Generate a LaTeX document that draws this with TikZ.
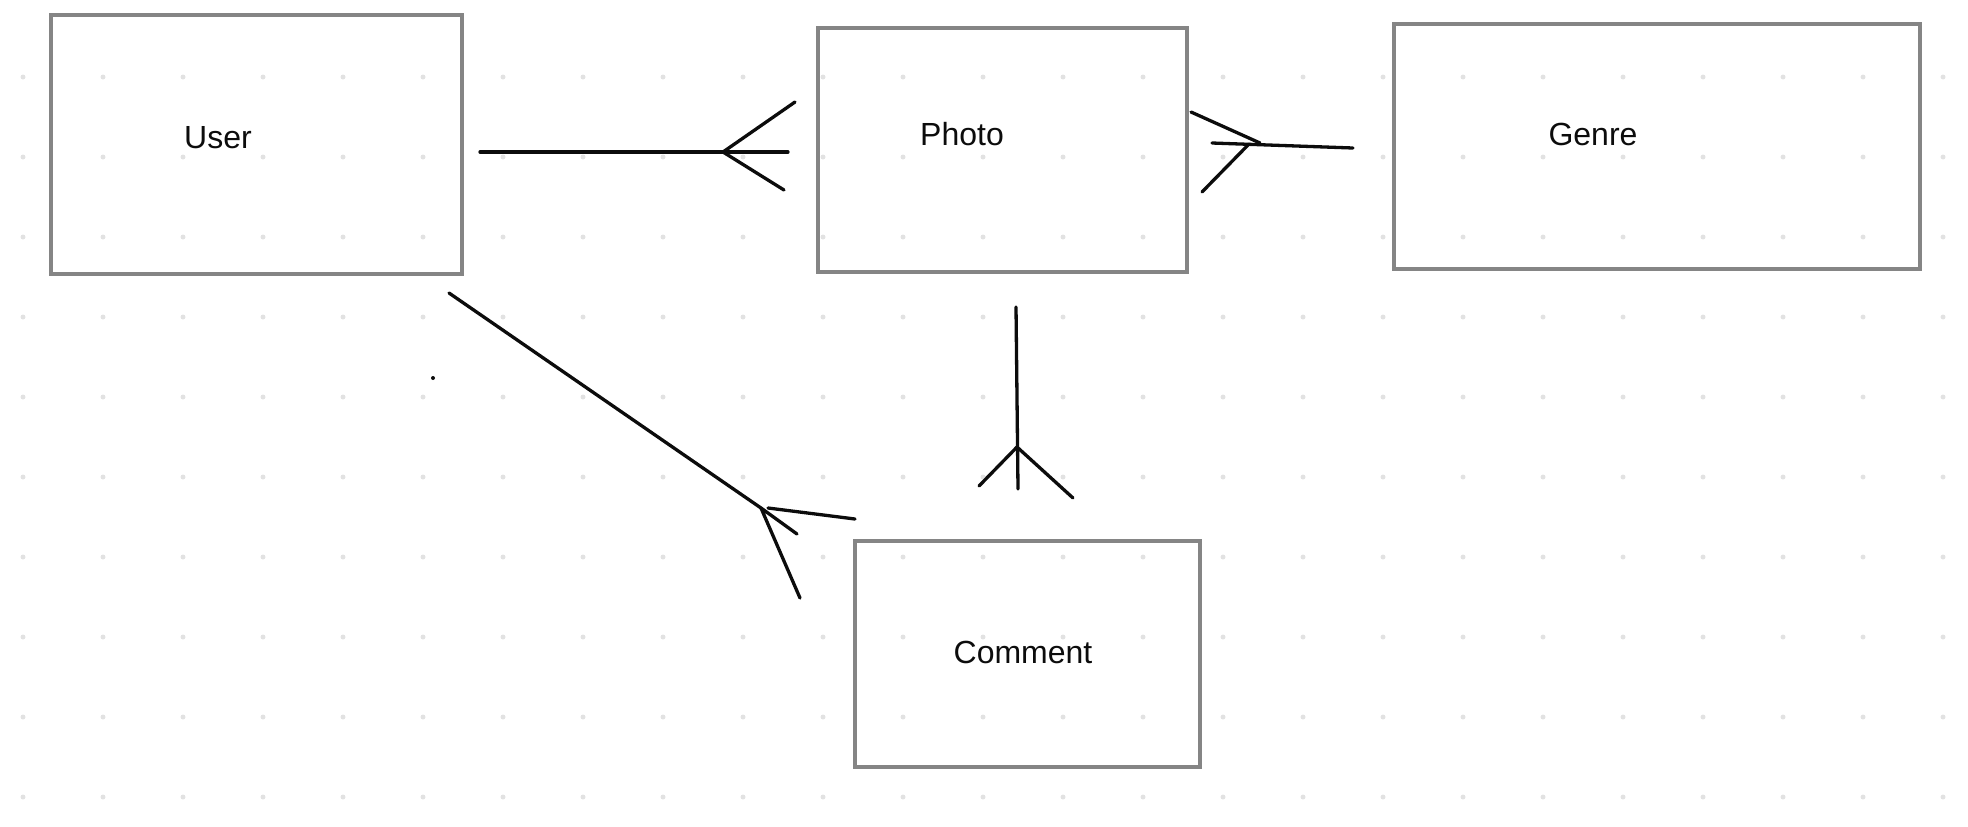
\documentclass[tikz,border=0pt]{standalone}
\usepackage{fontspec}
\setmainfont{Liberation Sans}
\usepackage{xcolor}
\usepackage{tikz}
\usetikzlibrary{positioning}
\definecolor{EGray}{HTML}{858585}
\definecolor{EDot}{HTML}{E2E2E2}
\definecolor{EInk}{HTML}{0C0C0C}

\begin{document}
\begin{tikzpicture}[x=0.5pt,y=-0.5pt,
  every node/.style={font=\fontsize{16}{19}\selectfont},
  entity/.style={draw=EGray,line width=1.65pt,inner sep=0pt,outer sep=0pt},
  tag/.style={text=EInk,inner sep=0pt},
  rel/.style={draw=EInk,line width=1.65pt,line cap=round,line join=round}
]
  \useasboundingbox (0,0) rectangle (1968,826);
  % dotted canvas
  \foreach \i in {0,...,24}
    \foreach \j in {0,...,9}
      \fill[EDot] (23+80*\i,77+80*\j) circle[radius=1.25pt];

  % entities
  \node[entity,minimum width=205.5pt,minimum height=129.5pt] (user) at (256.5,144.5) {};
  \node[entity,minimum width=184.5pt,minimum height=122pt] (photo) at (1002.5,150) {};
  \node[entity,minimum width=263pt,minimum height=122.5pt] (genre) at (1657,146.5) {};
  \node[entity,minimum width=172.5pt,minimum height=113pt] (comment) at (1027.5,654) {};
  \node[tag] (userlbl) at (218,138) {User};
  \node[tag] (photolbl) at (962,134) {Photo};
  \node[tag] (genrelbl) at (1593,134) {Genre};
  \node[tag] (commentlbl) at (1023,652) {Comment};

  % user -< photo
  \coordinate (up-a) at (480,152);
  \coordinate (up-b) at (788,152);
  \coordinate (up-f) at (723,152);
  \draw[rel] (up-a) -- (up-b);
  \draw[rel] (795,102) -- (up-f) -- (784,190);

  % photo >- genre
  \coordinate (pg-a) at (1212,143);
  \coordinate (pg-b) at (1353,148);
  \draw[rel] (pg-a) -- (pg-b);
  \draw[rel] (1191,112) -- (1260,143);
  \draw[rel] (1202,192) -- (1249,144);

  % photo -< comment
  \coordinate (pc-a) at (1016,307);
  \coordinate (pc-b) at (1018,489);
  \coordinate (pc-f) at (1017,447);
  \draw[rel] (pc-a) -- (pc-b);
  \draw[rel] (979,486) -- (pc-f) -- (1073,498);

  % user -< comment
  \coordinate (uc-a) at (449,293);
  \coordinate (uc-f) at (761,508);
  \draw[rel] (uc-a) -- (uc-f);
  \draw[rel] (797,534) -- (uc-f) -- (800,598);
  \draw[rel] (768,508) -- (855,519);
  \fill[EInk] (433,378) circle[radius=1pt];
\end{tikzpicture}
\end{document}
